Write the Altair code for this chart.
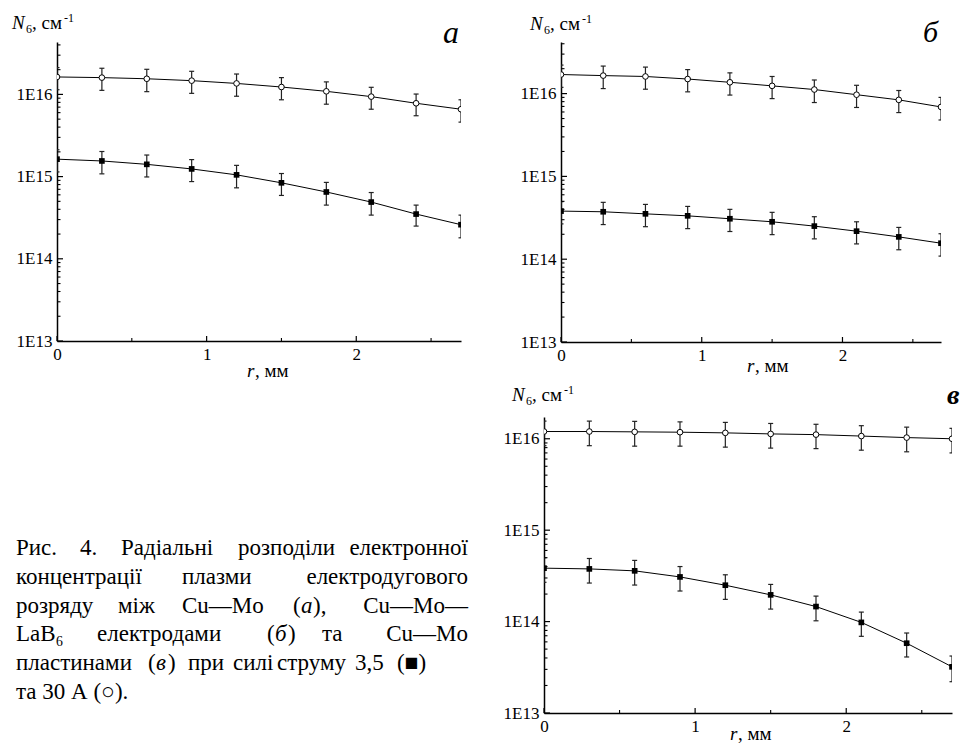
import altair as alt
import pandas as pd

# ---------------- data ----------------
R = [0.0, 0.3, 0.6, 0.9, 1.2, 1.5, 1.8, 2.1, 2.4, 2.7]

# panel а : Cu—Mo electrodes
A_30 = [1.63e16, 1.60e16, 1.55e16, 1.47e16, 1.36e16, 1.23e16, 1.09e16, 0.94e16, 0.78e16, 0.66e16]
A_30_ERR = [0.49e16, 0.48e16, 0.47e16, 0.44e16, 0.41e16, 0.37e16, 0.33e16, 0.28e16, 0.23e16, 0.20e16]
A_35 = [1.63e15, 1.55e15, 1.41e15, 1.24e15, 1.05e15, 0.84e15, 0.65e15, 0.49e15, 0.35e15, 0.26e15]
A_35_ERR = [0.49e15, 0.47e15, 0.42e15, 0.37e15, 0.32e15, 0.25e15, 0.20e15, 0.15e15, 0.10e15, 0.08e15]

# panel б : Cu—Mo—LaB6 electrodes
B_30 = [1.70e16, 1.65e16, 1.61e16, 1.50e16, 1.37e16, 1.24e16, 1.12e16, 0.97e16, 0.84e16, 0.69e16]
B_30_ERR = [0.51e16, 0.50e16, 0.48e16, 0.45e16, 0.41e16, 0.37e16, 0.34e16, 0.29e16, 0.25e16, 0.21e16]
B_35 = [3.81e14, 3.74e14, 3.53e14, 3.34e14, 3.08e14, 2.83e14, 2.51e14, 2.18e14, 1.86e14, 1.56e14]
B_35_ERR = [1.14e14, 1.12e14, 1.06e14, 1.00e14, 0.92e14, 0.85e14, 0.75e14, 0.65e14, 0.56e14, 0.47e14]

# panel в : Cu—Mo plates
C_30 = [1.20e16, 1.20e16, 1.19e16, 1.18e16, 1.16e16, 1.13e16, 1.11e16, 1.07e16, 1.03e16, 1.00e16]
C_30_ERR = [0.36e16, 0.36e16, 0.36e16, 0.35e16, 0.35e16, 0.34e16, 0.33e16, 0.32e16, 0.31e16, 0.30e16]
C_35 = [3.84e14, 3.77e14, 3.59e14, 3.08e14, 2.50e14, 1.96e14, 1.46e14, 0.98e14, 0.58e14, 0.32e14]
C_35_ERR = [1.15e14, 1.13e14, 1.08e14, 0.92e14, 0.75e14, 0.59e14, 0.44e14, 0.29e14, 0.17e14, 0.10e14]

SERIES = ["30 A", "3,5 A"]
Y_MAJOR = [1e13, 1e14, 1e15, 1e16]
Y_LABELS = ["1E13", "1E14", "1E15", "1E16"]
Y_MINOR = [m * 10.0 ** e for e in (13, 14, 15, 16) for m in range(2, 10)]
X_MAJOR = [0, 1, 2]
X_LABELS = ["0", "1", "2"]
X_MINOR = [0.5, 1.5, 2.5]

# caption, piece by piece (justified lines); pieces wrapped in _..._ are italic
CAPTION_WORDS = [
    ["Рис.", "4.", "Радіальні", "розподіли", "електронної"],
    ["концентрації", "плазми", "електродугового"],
    ["розряду", "між", "Cu—Mo", "(", "_а_", "),", "Cu—Mo—"],
    ["LaB₆", "електродами", "(", "_б_", ")", "та", "Cu—Mo"],
    ["пластинами", "(", "_в_", ")", "при", "силі", "струму", "3,5", "(■)"],
    ["та 30 А (○)."],
]
# left edge of each piece in page pixels; None = piece ends at the right margin
CAPTION_X = [
    [16, 80, 121, 238, None],
    [16, 182, None],
    [16, 118, 182, 293, 301, 313, None],
    [16, 97, 267, 275, 288, 322, None],
    [16, 148, 156, 168, 188, 233, 277, 355, 397],
    [16],
]
CAPTION_RIGHT = 468
CAPTION_BASE = 554
CAPTION_STEP = 28.8

FONT = "Liberation Serif"
ONE = pd.DataFrame({"k": [0]})


def expr_map(values, labels):
    parts = [f"datum.value == {v!r} ? '{l}'" for v, l in zip(values, labels)]
    return " : ".join(parts) + " : ''"


def text(txt, x, y, size, italic=False, bold=False, align="left"):
    return alt.Chart(ONE).mark_text(
        text=txt, font=FONT, fontSize=size,
        fontStyle="italic" if italic else "normal",
        fontWeight="bold" if bold else "normal",
        align=align, baseline="alphabetic", color="black",
    ).encode(x=alt.value(x), y=alt.value(y))


def ghost(x, y):
    return alt.Chart(ONE).mark_rule(opacity=0, strokeWidth=0.01).encode(
        x=alt.value(x), x2=alt.value(x + 1), y=alt.value(y), y2=alt.value(y))


def panel(o, oe, s, se, W, H, ymax, letter, lx, ly, lsize, lbold,
          nx, ny, rx, ry, extra=None):
    df = pd.DataFrame({
        "r": R + R,
        "N": o + s,
        "err": oe + se,
        "series": [SERIES[0]] * len(R) + [SERIES[1]] * len(R),
    })
    df["lo"] = df["N"] - df["err"]
    df["hi"] = df["N"] + df["err"]

    xs = alt.Scale(domain=[0, 2.7], nice=False, zero=False)
    ys = alt.Scale(type="log", domain=[1e13, ymax], nice=False)
    xax = alt.Axis(values=X_MAJOR, labelExpr=expr_map(X_MAJOR, X_LABELS), title=None,
                   ticks=False, tickSize=0, grid=False, labelPadding=5, labelFlush=False,
                   labelFont=FONT, labelFontSize=17, labelColor="black",
                   domainColor="black", domainWidth=1.5)
    yax = alt.Axis(values=Y_MAJOR, labelExpr=expr_map(Y_MAJOR, Y_LABELS), title=None,
                   ticks=False, tickSize=0, grid=False, labelPadding=5,
                   labelFont=FONT, labelFontSize=17, labelColor="black",
                   domainColor="black", domainWidth=1.5)

    def X(f):
        return alt.X(f, type="quantitative", scale=xs, axis=xax)

    def Y(f):
        return alt.Y(f, type="quantitative", scale=ys, axis=yax)

    base = alt.Chart(df)
    line = base.mark_line(color="black", strokeWidth=1, clip=True).encode(
        x=X("r"), y=Y("N"), detail="series:N")
    bars = base.mark_rule(color="#222222", strokeWidth=1.2, clip=True).encode(
        x=X("r"), y=Y("lo"), y2=alt.Y2("hi"))
    cap_lo = base.mark_tick(orient="horizontal", size=5, thickness=1.2,
                            color="#222222", opacity=1, clip=True).encode(x=X("r"), y=Y("lo"))
    cap_hi = base.mark_tick(orient="horizontal", size=5, thickness=1.2,
                            color="#222222", opacity=1, clip=True).encode(x=X("r"), y=Y("hi"))
    circles = base.transform_filter(alt.datum.series == SERIES[0]).mark_point(
        shape="circle", size=32, filled=True, fill="white", stroke="black",
        strokeWidth=1, opacity=1, clip=True).encode(x=X("r"), y=Y("N"))
    squares = base.transform_filter(alt.datum.series == SERIES[1]).mark_square(
        size=32, color="black", opacity=1, clip=True).encode(x=X("r"), y=Y("N"))

    ymaj = alt.Chart(pd.DataFrame({"v": Y_MAJOR})).mark_rule(
        color="black", strokeWidth=1.2).encode(
        x=alt.value(0), x2=alt.value(6), y=Y("v"))
    ymin = alt.Chart(pd.DataFrame({"v": [v for v in Y_MINOR if v <= ymax]})).mark_rule(
        color="black", strokeWidth=1.1).encode(
        x=alt.value(0), x2=alt.value(3.5), y=Y("v"))
    xmaj = alt.Chart(pd.DataFrame({"v": X_MAJOR})).mark_rule(
        color="black", strokeWidth=1.2).encode(
        y=alt.value(H), y2=alt.value(H - 5), x=X("v"))
    xmin = alt.Chart(pd.DataFrame({"v": X_MINOR})).mark_rule(
        color="black", strokeWidth=1.1).encode(
        y=alt.value(H), y2=alt.value(H - 3), x=X("v"))

    labels = [
        text(letter, lx, ly, lsize, italic=True, bold=lbold),
        text("N", nx, ny, 19, italic=True),
        text("6", nx + 14, ny + 4, 12),
        text(", см", nx + 20, ny, 19),
        text("-1", nx + 52, ny - 7, 12),
        text("r", rx, H + ry, 19, italic=True),
        text(", мм", rx + 8, H + ry, 19),
    ]
    layers = [line, bars, cap_lo, cap_hi, circles, squares, ymaj, ymin, xmaj, xmin] + labels
    if extra:
        layers += extra
    return alt.layer(*layers).properties(width=W, height=H)


# invisible anchors: page top-left corner (panel а), bottom of row 1, top of row 2
pa = panel(A_30, A_30_ERR, A_35, A_35_ERR, 404, 299, 4.34e16,
           "а", 386, 1, 32, False, -45, -13, 190, 36,
           extra=[ghost(-57, -42), ghost(0, 299 + 40)])
pb = panel(B_30, B_30_ERR, B_35, B_35_ERR, 380, 300, 4.2e16,
           "б", 362, 0, 30, False, -31, -12, 186, 30)
pc = panel(C_30, C_30_ERR, C_35, C_35_ERR, 408, 296, 1.73e16,
           "в", 403, -13, 28, True, -32, -16, 186, 27,
           extra=[ghost(0, -36)])

# caption block: its origin sits at page (57, 416)
CAP_OX, CAP_OY = 57, 416
cap_layers = []
for li, (words, xs_) in enumerate(zip(CAPTION_WORDS, CAPTION_X)):
    yb = CAPTION_BASE + li * CAPTION_STEP - CAP_OY
    for w, x0 in zip(words, xs_):
        ital = len(w) > 2 and w.startswith("_") and w.endswith("_")
        t = w[1:-1] if ital else w
        if x0 is None:
            cap_layers.append(text(t, CAPTION_RIGHT - CAP_OX, yb, 23, italic=ital, align="right"))
        else:
            cap_layers.append(text(t, x0 - CAP_OX, yb, 23, italic=ital, align="left"))
cap = alt.layer(*cap_layers).properties(width=387, height=296)

row1 = alt.hconcat(pa, pb, spacing=100, bounds="flush")
row2 = alt.hconcat(cap, pc, spacing=100, bounds="flush")
chart = alt.vconcat(row1, row2, spacing=0, bounds="full").properties(
    padding=0, background="white").configure_view(stroke=None)

chart.save("out.html", embed_options={"renderer": "svg", "actions": False})
